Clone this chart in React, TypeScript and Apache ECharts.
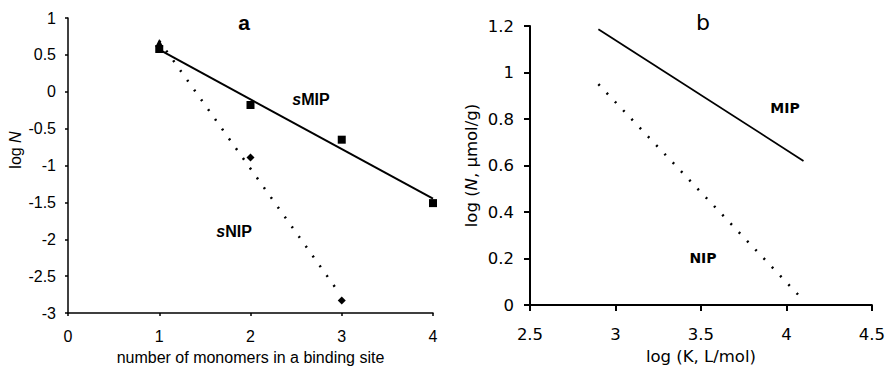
import React, { useEffect, useRef } from "react";
import * as echarts from "echarts";

// Panel a
const monomerCounts = [1, 2, 3, 4];
const sMIPLogN = [0.58, -0.18, -0.65, -1.51];
const sNIPCounts = [2, 3];
const sNIPLogN = [-0.89, -2.83];
const sNIPFirstCount = [1];
const sNIPFirstLogN = [0.66];
const sMIPFitX = [1, 4];
const sMIPFitY = [0.57, -1.45];
const sNIPFitX = [1, 2.95];
const sNIPFitY = [0.69, -2.69];

// Panel b
const mipFitX = [2.9, 4.1];
const mipFitY = [1.186, 0.62];
const nipFitX = [2.9, 4.075];
const nipFitY = [0.95, 0.04];

const zip = (xs: number[], ys: number[]) => xs.map((x, i) => [x, ys[i]]);

const ARIAL = "'Liberation Sans', Arial, sans-serif";
const VERD = "'DejaVu Sans', Verdana, sans-serif";

export default function App() {
  const ref = useRef<HTMLDivElement>(null);
  useEffect(() => {
    if (!ref.current) return;
    const chart = echarts.init(ref.current, undefined, { renderer: "svg" });
    const axisLineL = { show: true, onZero: false, lineStyle: { color: "#000", width: 1.5 } };
    const axisLineR = { show: true, onZero: false, lineStyle: { color: "#000", width: 2 } };
    chart.setOption({
      animation: false,
      backgroundColor: "#fff",
      grid: [
        { left: 68, right: 455, top: 18, bottom: 53, containLabel: false },
        { left: 530, right: 15, top: 26, bottom: 56, containLabel: false },
      ],
      xAxis: [
        {
          type: "value", gridIndex: 0, min: 0, max: 4, interval: 1,
          axisLine: axisLineL,
          axisTick: { show: true, length: 3, lineStyle: { color: "#000", width: 1.5 } },
          splitLine: { show: false },
          axisLabel: { color: "#000", fontFamily: ARIAL, fontSize: 16, margin: 15 },
          name: "number of monomers in a binding site",
          nameLocation: "middle", nameGap: 36,
          nameTextStyle: { color: "#000", fontFamily: ARIAL, fontSize: 16 },
        },
        {
          type: "value", gridIndex: 1, min: 2.5, max: 4.5, interval: 0.5,
          axisLine: axisLineR,
          axisTick: { show: true, length: 6, lineStyle: { color: "#000", width: 2 } },
          splitLine: { show: false },
          axisLabel: { color: "#000", fontFamily: VERD, fontSize: 16.5, margin: 21 },
          name: "log (K, L/mol)",
          nameLocation: "middle", nameGap: 38,
          nameTextStyle: { color: "#000", fontFamily: VERD, fontSize: 16.5 },
        },
      ],
      yAxis: [
        {
          type: "value", gridIndex: 0, min: -3, max: 1, interval: 0.5,
          axisLine: axisLineL,
          axisTick: { show: true, length: 3, lineStyle: { color: "#000", width: 1.5 } },
          splitLine: { show: false },
          axisLabel: { color: "#000", fontFamily: ARIAL, fontSize: 16, margin: 12 },
        },
        {
          type: "value", gridIndex: 1, min: 0, max: 1.2, interval: 0.2,
          axisLine: axisLineR,
          axisTick: { show: true, length: 6, lineStyle: { color: "#000", width: 2 } },
          splitLine: { show: false },
          axisLabel: { color: "#000", fontFamily: VERD, fontSize: 16.5, margin: 16 },
          name: "log ({i|N}, μmol/g)",
          nameLocation: "middle", nameGap: 50,
          nameTextStyle: {
            color: "#000", fontFamily: VERD, fontSize: 16.5,
            rich: { i: { fontStyle: "italic", fontFamily: VERD, fontSize: 16.5, color: "#000" } },
          },
        },
      ],
      series: [
        {
          type: "line", xAxisIndex: 0, yAxisIndex: 0, data: zip(sMIPFitX, sMIPFitY),
          showSymbol: false, lineStyle: { color: "#000", width: 2 }, silent: true,
        },
        {
          type: "line", xAxisIndex: 0, yAxisIndex: 0, data: zip(sNIPFitX, sNIPFitY),
          showSymbol: false, lineStyle: { color: "#000", width: 2.5, type: [2, 10] }, silent: true,
        },
        {
          type: "scatter", xAxisIndex: 0, yAxisIndex: 0, data: zip(monomerCounts, sMIPLogN),
          symbol: "rect", symbolSize: 8, itemStyle: { color: "#000", opacity: 1 },
        },
        {
          type: "scatter", xAxisIndex: 0, yAxisIndex: 0, data: zip(sNIPCounts, sNIPLogN),
          symbol: "diamond", symbolSize: 8, itemStyle: { color: "#000", opacity: 1 },
        },
        {
          type: "scatter", xAxisIndex: 0, yAxisIndex: 0, data: zip(sNIPFirstCount, sNIPFirstLogN),
          symbol: "triangle", symbolSize: 8, itemStyle: { color: "#000", opacity: 1 },
        },
        {
          type: "line", xAxisIndex: 1, yAxisIndex: 1, data: zip(mipFitX, mipFitY),
          showSymbol: false, lineStyle: { color: "#000", width: 1.8 }, silent: true,
        },
        {
          type: "line", xAxisIndex: 1, yAxisIndex: 1, data: zip(nipFitX, nipFitY),
          showSymbol: false, lineStyle: { color: "#000", width: 2.5, type: [2, 10] }, silent: true,
        },
      ],
      graphic: [
        {
          type: "text", x: 15, y: 150, rotation: Math.PI / 2,
          style: {
            text: "log {i|N}", fill: "#000", font: `16px ${ARIAL}`,
            align: "center", verticalAlign: "middle",
            rich: { i: { fontStyle: "italic", fontFamily: ARIAL, fontSize: 16, fill: "#000" } },
          },
        },
        {
          type: "text", x: 244, y: 22,
          style: { text: "a", fill: "#000", font: `bold 21px ${ARIAL}`, align: "center", verticalAlign: "middle" },
        },
        {
          type: "text", x: 703, y: 22,
          style: { text: "b", fill: "#000", font: `22px ${VERD}`, align: "center", verticalAlign: "middle" },
        },
        {
          type: "text", x: 311, y: 99,
          style: {
            text: "{i|s}MIP", fill: "#000", font: `bold 16px ${ARIAL}`, align: "center", verticalAlign: "middle",
            rich: { i: { fontStyle: "italic", fontWeight: "bold", fontFamily: ARIAL, fontSize: 16, fill: "#000" } },
          },
        },
        {
          type: "text", x: 234, y: 231,
          style: {
            text: "{i|s}NIP", fill: "#000", font: `bold 16px ${ARIAL}`, align: "center", verticalAlign: "middle",
            rich: { i: { fontStyle: "italic", fontWeight: "bold", fontFamily: ARIAL, fontSize: 16, fill: "#000" } },
          },
        },
        {
          type: "text", x: 785, y: 108,
          style: { text: "MIP", fill: "#000", font: `bold 14px ${VERD}`, align: "center", verticalAlign: "middle" },
        },
        {
          type: "text", x: 703, y: 258,
          style: { text: "NIP", fill: "#000", font: `bold 14px ${VERD}`, align: "center", verticalAlign: "middle" },
        },
      ],
    });
    return () => chart.dispose();
  }, []);
  return (
    <div
      ref={ref}
      style={{ position: "fixed", left: 0, top: 0, width: 888, height: 370, background: "#fff" }}
    />
  );
}
